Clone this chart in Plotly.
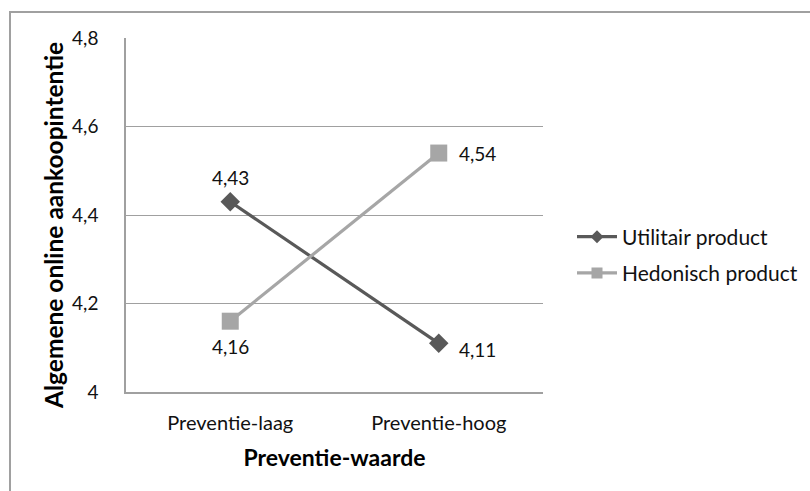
import plotly.graph_objects as go

categories = ["Preventie-laag", "Preventie-hoog"]
utilitair = [4.43, 4.11]
hedonisch = [4.16, 4.54]
y_ticks = [4.0, 4.2, 4.4, 4.6, 4.8]

W, H = 810, 491
L, R, T, B = 126, 543, 38, 392
FONT = "Lato, 'Open Sans', sans-serif"
DARK = "#595959"
LIGHT = "#a6a6a6"
TXT = "#111111"


def px_x(px):
    return (px - L) / (R - L)


def px_y(py):
    return (B - py) / (B - T)


def fmt(v):
    return f"{v:.2f}".replace(".", ",")


fig = go.Figure()
fig.add_trace(go.Scatter(
    x=categories, y=utilitair, name="Utilitair product", showlegend=False,
    mode="lines+markers", line=dict(color=DARK, width=3.2),
    marker=dict(symbol="diamond", size=15, color=DARK),
))
fig.add_trace(go.Scatter(
    x=categories, y=hedonisch, name="Hedonisch product", showlegend=False,
    mode="lines+markers", line=dict(color=LIGHT, width=3.2),
    marker=dict(symbol="square", size=17, color=LIGHT),
))

# legend entries with smaller symbols
fig.add_trace(go.Scatter(
    x=[None], y=[None], name="Utilitair product", legendgroup="u",
    mode="lines+markers", line=dict(color=DARK, width=3.2),
    marker=dict(symbol="diamond", size=10, color=DARK),
))
fig.add_trace(go.Scatter(
    x=[None], y=[None], name="Hedonisch product", legendgroup="h",
    mode="lines+markers", line=dict(color=LIGHT, width=3.2),
    marker=dict(symbol="square", size=11, color=LIGHT),
))

# data value labels
label_offsets = {
    "u": [(0, 24), (18, -6)],
    "h": [(0, -25), (18, 0)],
}
for key, vals in (("u", utilitair), ("h", hedonisch)):
    for cat, v, (dx, dy) in zip(categories, vals, label_offsets[key]):
        fig.add_annotation(
            x=cat, y=v, xref="x", yref="y", text=fmt(v), showarrow=False,
            xshift=dx, yshift=dy,
            xanchor="left" if dx else "center",
            font=dict(family=FONT, size=19, color=TXT),
        )

# outer chart frame
fig.add_shape(type="rect", xref="paper", yref="paper",
              x0=px_x(10), x1=px_x(830), y0=px_y(500), y1=px_y(12),
              line=dict(color="#a0a0a0", width=2), layer="below")

fig.add_annotation(
    text="<b>Algemene online aankoopintentie</b>", textangle=-90,
    xref="paper", yref="paper", x=px_x(53), y=px_y(226),
    xanchor="center", yanchor="middle",
    showarrow=False, font=dict(family=FONT, size=24.5, color="#000000"),
)

fig.update_layout(
    width=W, height=H,
    margin=dict(l=L, r=W - R, t=T, b=H - B, pad=0, autoexpand=False),
    paper_bgcolor="white", plot_bgcolor="white",
    separators=", ",
    font=dict(family=FONT, size=19, color=TXT),
    xaxis=dict(
        type="category", range=[-0.5, 1.5],
        showgrid=False, showline=True, linecolor="#a0a0a0", linewidth=1.5,
        ticks="", tickfont=dict(family=FONT, size=20, color=TXT),
        ticklabelstandoff=12,
        title=dict(text="<b>Preventie-waarde</b>", standoff=17,
                   font=dict(family=FONT, size=23, color="#000000")),
    ),
    yaxis=dict(
        range=[4.0, 4.8], tickvals=y_ticks,
        showgrid=True, gridcolor="#a0a0a0", gridwidth=1.2,
        showline=True, linecolor="#a0a0a0", linewidth=1.5,
        zeroline=False, ticks="", ticklabelstandoff=22,
        tickfont=dict(family=FONT, size=19, color=TXT),
    ),
    legend=dict(
        x=px_x(572), y=px_y(255), xanchor="left", yanchor="middle",
        xref="paper", yref="paper",
        font=dict(family=FONT, size=21, color=TXT),
        tracegroupgap=6, itemwidth=40,
        bgcolor="rgba(0,0,0,0)",
    ),
)
fig.update_traces(cliponaxis=False)

fig.write_html("out.html")
